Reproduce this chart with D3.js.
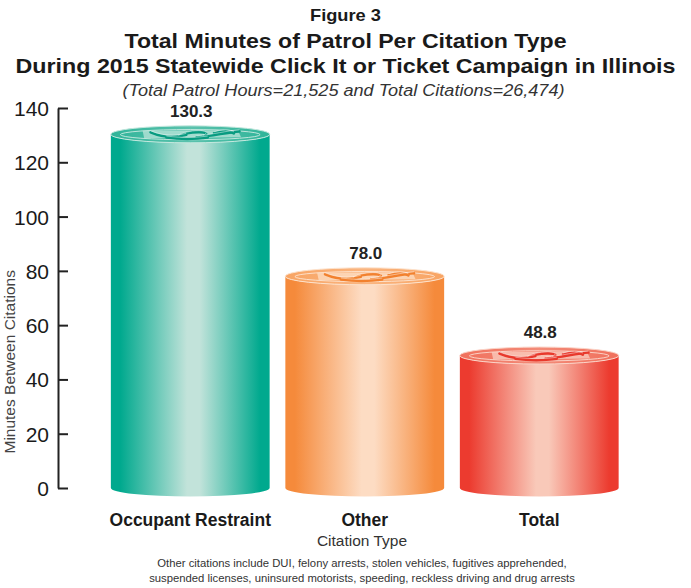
<!DOCTYPE html>
<html>
<head>
<meta charset="utf-8">
<script src="https://cdn.jsdelivr.net/npm/d3@7"></script>
<style>
  html, body { margin: 0; padding: 0; background: #fff; }
  svg { display: block; }
  text { font-family: "Liberation Sans", Arial, Helvetica, sans-serif; }
</style>
</head>
<body>
<svg id="chart" width="691" height="588"></svg>
<script>
// ---- data ----
const categories = ["Occupant Restraint", "Other", "Total"];
const values = [130.3, 78.0, 48.8];
const valueLabels = ["130.3", "78.0", "48.8"];
const yTicks = [0, 20, 40, 60, 80, 100, 120, 140];
const titleLines = ["Figure 3", "Total Minutes of Patrol Per Citation Type", "During 2015 Statewide Click It or Ticket Campaign in Illinois"];
const subtitle = "(Total Patrol Hours=21,525 and Total Citations=26,474)";
const yAxisTitle = "Minutes Between Citations";
const xAxisTitle = "Citation Type";
const footnote = ["Other citations include DUI, felony arrests, stolen vehicles, fugitives apprehended,",
                  "suspended licenses, uninsured motorists, speeding, reckless driving and drug arrests"];

// colour themes per bar
const palette = [
  {edge: "#00a98e", mid: "#c2e3da", top: "#2fb499", topLight: "#c4e8de", swirl: "#089b80"},
  {edge: "#f58a3b", mid: "#fddcc3", top: "#f8a463", topLight: "#fde2cc", swirl: "#f2812e"},
  {edge: "#ec3b2f", mid: "#f9c9b9", top: "#f0705c", topLight: "#fbd4c8", swirl: "#e8392c"}
];

const svg = d3.select("#chart");
const W = 691;

const x = d3.scaleBand().domain(categories).range([103, 626.5]).paddingInner(0.09).paddingOuter(0.045);
const y = d3.scaleLinear().domain([0, 140]).range([488, 108]);

// ---- titles ----
const tSizes = [17, 21, 21];
const tY = [21, 48, 73];
const tLen = [71, 442, 660];
titleLines.forEach((t, i) => {
  svg.append("text").attr("x", W / 2).attr("y", tY[i]).attr("text-anchor", "middle")
    .attr("font-weight", "bold").attr("font-size", tSizes[i]).attr("fill", "#1a1a1a")
    .attr("textLength", tLen[i]).attr("lengthAdjust", "spacingAndGlyphs").text(t);
});
svg.append("text").attr("x", W / 2 - 2).attr("y", 96).attr("text-anchor", "middle")
  .attr("font-style", "italic").attr("font-size", 16).attr("fill", "#333")
  .attr("textLength", 442).attr("lengthAdjust", "spacingAndGlyphs").text(subtitle);

// ---- gradients ----
const defs = svg.append("defs");
palette.forEach((p, i) => {
  const g = defs.append("linearGradient").attr("id", "body" + i).attr("x1", "0").attr("x2", "1").attr("y1", "0").attr("y2", "0");
  [[0, p.edge], [0.06, p.edge], [0.48, p.mid], [0.56, p.mid], [0.94, p.edge], [1, p.edge]].forEach(s =>
    g.append("stop").attr("offset", s[0]).attr("stop-color", s[1]));
  const gt = defs.append("linearGradient").attr("id", "top" + i).attr("x1", "0").attr("x2", "1").attr("y1", "0").attr("y2", "0");
  [[0, p.top], [0.5, d3.interpolateRgb(p.top, p.mid)(0.3)], [1, p.top]].forEach(s =>
    gt.append("stop").attr("offset", s[0]).attr("stop-color", s[1]));
});

// ---- bars (cylinders) ----
const ry = 8.5;
const bars = svg.append("g");
categories.forEach((c, i) => {
  const p = palette[i];
  const x0 = x(c), bw = x.bandwidth(), rx = bw / 2, cx = x0 + rx;
  const yt = y(values[i]), yb = y(0);
  const g = bars.append("g");
  // body
  g.append("path")
    .attr("d", `M${x0},${yt} L${x0},${yb} A${rx},${ry} 0 0 0 ${x0 + bw},${yb} L${x0 + bw},${yt} A${rx},${ry} 0 0 1 ${x0},${yt} Z`)
    .attr("fill", `url(#body${i})`);
  // top ellipse
  g.append("ellipse").attr("cx", cx).attr("cy", yt).attr("rx", rx).attr("ry", ry)
    .attr("fill", `url(#top${i})`).attr("stroke", p.topLight).attr("stroke-width", 1);
  // inner ring
  g.append("ellipse").attr("cx", cx).attr("cy", yt + 0.3).attr("rx", rx * 0.88).attr("ry", ry * 0.6)
    .attr("fill", "none").attr("stroke", p.topLight).attr("stroke-width", 1).attr("opacity", 0.95);
  // light centre plate
  g.append("path")
    .attr("d", `M${cx - rx * 0.6},${yt - 3.5} L${cx + rx * 0.6},${yt - 4} L${cx + rx * 0.64},${yt + 3} L${cx - rx * 0.58},${yt + 4} Z`)
    .attr("fill", p.topLight).attr("opacity", 0.7);
  // swirls
  const sw = [
    `M${cx - rx * 0.5},${yt - 2} C${cx - rx * 0.35},${yt + 3} ${cx - rx * 0.18},${yt + 3.5} ${cx - rx * 0.05},${yt + 0.5}`,
    `M${cx - rx * 0.15},${yt + 2.5} C${cx - rx * 0.02},${yt - 4} ${cx + rx * 0.32},${yt - 3.5} ${cx + rx * 0.16},${yt + 2.5}`,
    `M${cx + rx * 0.08},${yt + 3} C${cx + rx * 0.3},${yt + 1.5} ${cx + rx * 0.45},${yt - 2} ${cx + rx * 0.62},${yt - 3}`,
    `M${cx - rx * 0.3},${yt + 3.2} C${cx - rx * 0.08},${yt + 5.5} ${cx + rx * 0.1},${yt + 4.5} ${cx + rx * 0.22},${yt + 3.2}`,
    `M${cx + rx * 0.3},${yt - 1} C${cx + rx * 0.4},${yt - 3.5} ${cx + rx * 0.5},${yt - 3.5} ${cx + rx * 0.55},${yt - 1}`
  ];
  sw.forEach(d => g.append("path").attr("d", d).attr("fill", "none")
    .attr("stroke", p.swirl).attr("stroke-width", 2.6).attr("stroke-linecap", "round"));
  sw.forEach(d => g.append("path").attr("d", d).attr("fill", "none")
    .attr("stroke", "#fff").attr("stroke-width", 0.6).attr("opacity", 0.75).attr("transform", "translate(0,-1.5)"));
  // value label
  g.append("text").attr("x", cx + 1).attr("y", yt - ry - 9).attr("text-anchor", "middle")
    .attr("font-weight", "bold").attr("font-size", 17).attr("fill", "#222").text(valueLabels[i]);
});

// ---- y axis ----
const yAxis = d3.axisLeft(y).tickValues(yTicks).tickSizeInner(-10).tickSizeOuter(0).tickPadding(9);
const ya = svg.append("g").attr("transform", "translate(58,0)").call(yAxis);
ya.select(".domain").attr("stroke", "#222").attr("stroke-width", 2);
ya.selectAll(".tick line").attr("stroke", "#222").attr("stroke-width", 2);
ya.selectAll(".tick text").attr("font-size", 21).attr("fill", "#1a1a1a")
  .attr("font-family", "'Liberation Sans', Arial, sans-serif").attr("dy", "0.36em");

svg.append("text").attr("transform", `translate(15,${y(46.5)}) rotate(-90)`).attr("text-anchor", "middle")
  .attr("font-size", 15.5).attr("fill", "#444").text(yAxisTitle);

// ---- x axis labels ----
const xa = svg.append("g");
categories.forEach(c => {
  xa.append("text").attr("x", x(c) + x.bandwidth() / 2).attr("y", 526).attr("text-anchor", "middle")
    .attr("font-weight", "bold").attr("font-size", 17.5).attr("fill", "#1a1a1a").text(c);
});
svg.append("text").attr("x", 362).attr("y", 546).attr("text-anchor", "middle")
  .attr("font-size", 15.5).attr("fill", "#333").text(xAxisTitle);

// ---- footnote ----
footnote.forEach((t, i) => {
  svg.append("text").attr("x", 362).attr("y", 567 + i * 15).attr("text-anchor", "middle")
    .attr("font-size", 11.3).attr("fill", "#333").text(t);
});
</script>
</body>
</html>
